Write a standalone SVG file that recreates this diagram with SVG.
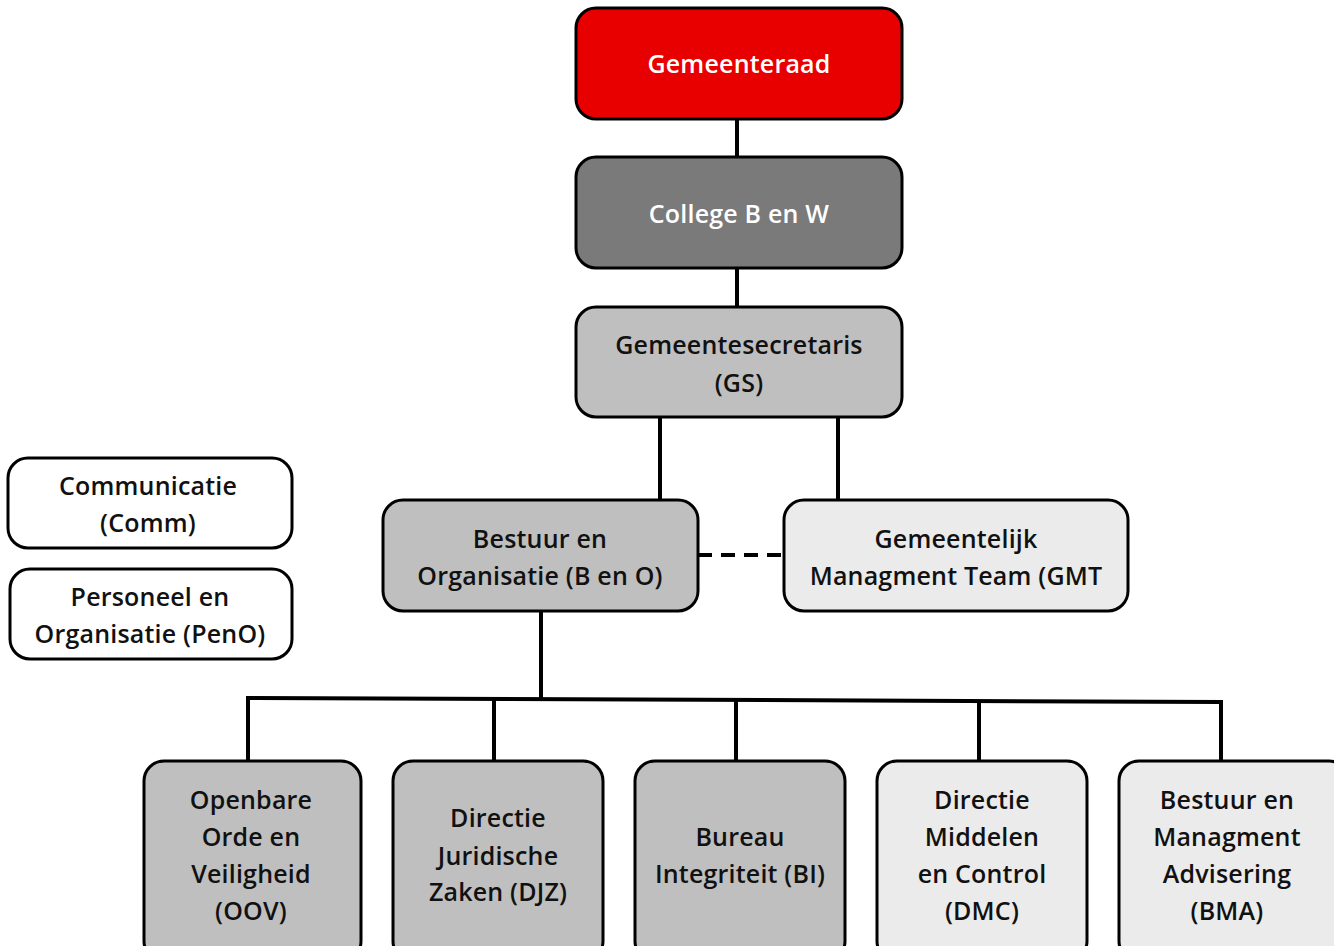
<svg xmlns="http://www.w3.org/2000/svg" width="1334" height="946" viewBox="0 0 1334 946">
<style>
.box{stroke:#000;stroke-width:3}
.t{font-family:"Open Sans",Lato,"Liberation Sans",sans-serif;font-weight:600;font-size:25px;letter-spacing:0.2px;text-anchor:middle;fill:#111}
.w{fill:#fff}
.c{stroke:#000;stroke-width:4;fill:none}
</style>
<rect width="1334" height="946" fill="#fff"/>
<g id="connectors">
<line class="c" x1="737" y1="119" x2="737" y2="157"/>
<line class="c" x1="737" y1="268" x2="737" y2="307"/>
<line class="c" x1="660" y1="417" x2="660" y2="500"/>
<line class="c" x1="838" y1="417" x2="838" y2="500"/>
<line class="c" x1="698" y1="555" x2="784" y2="555" stroke-dasharray="14,9"/>
<line class="c" x1="541" y1="611" x2="541" y2="698"/>
<polyline class="c" points="248,761 248,698 1221,702 1221,761"/>
<line class="c" x1="494" y1="699" x2="494" y2="761"/>
<line class="c" x1="736" y1="700" x2="736" y2="761"/>
<line class="c" x1="979" y1="701" x2="979" y2="761"/>
</g>
<g id="gemeenteraad"><rect class="box" x="576" y="8" width="326" height="111" rx="20" fill="#e80000"/><text class="t w" x="739" y="73">Gemeenteraad</text></g>
<g id="college"><rect class="box" x="576" y="157" width="326" height="111" rx="20" fill="#7a7a7a"/><text class="t w" x="739" y="223">College B en W</text></g>
<g id="gs"><rect class="box" x="576" y="307" width="326" height="110" rx="20" fill="#bfbfbf"/><text class="t" x="739" y="354">Gemeentesecretaris</text><text class="t" x="739" y="392">(GS)</text></g>
<g id="beno"><rect class="box" x="383" y="500" width="315" height="111" rx="20" fill="#bfbfbf"/><text class="t" x="540" y="548">Bestuur en</text><text class="t" x="540" y="585">Organisatie (B en O)</text></g>
<g id="gmt"><rect class="box" x="784" y="500" width="344" height="111" rx="20" fill="#ebebeb"/><text class="t" x="956" y="548">Gemeentelijk</text><text class="t" x="956" y="585">Managment Team (GMT</text></g>
<g id="comm"><rect class="box" x="8" y="458" width="284" height="90" rx="20" fill="#fff"/><text class="t" x="148" y="495">Communicatie</text><text class="t" x="148" y="532">(Comm)</text></g>
<g id="peno"><rect class="box" x="10" y="569" width="282" height="90" rx="20" fill="#fff"/><text class="t" x="150" y="606">Personeel en</text><text class="t" x="150" y="643">Organisatie (PenO)</text></g>
<g id="oov"><rect class="box" x="144" y="761" width="217" height="200" rx="20" fill="#bfbfbf"/><text class="t" x="251" y="809">Openbare</text><text class="t" x="251" y="846">Orde en</text><text class="t" x="251" y="883">Veiligheid</text><text class="t" x="251" y="920">(OOV)</text></g>
<g id="djz"><rect class="box" x="393" y="761" width="210" height="200" rx="20" fill="#bfbfbf"/><text class="t" x="498" y="827">Directie</text><text class="t" x="498" y="865">Juridische</text><text class="t" x="498" y="901">Zaken (DJZ)</text></g>
<g id="bi"><rect class="box" x="635" y="761" width="210" height="200" rx="20" fill="#bfbfbf"/><text class="t" x="740" y="846">Bureau</text><text class="t" x="740" y="883">Integriteit (BI)</text></g>
<g id="dmc"><rect class="box" x="877" y="761" width="210" height="200" rx="20" fill="#ebebeb"/><text class="t" x="982" y="809">Directie</text><text class="t" x="982" y="846">Middelen</text><text class="t" x="982" y="883">en Control</text><text class="t" x="982" y="920">(DMC)</text></g>
<g id="bma"><rect class="box" x="1119" y="761" width="230" height="200" rx="20" fill="#ebebeb"/><text class="t" x="1227" y="809">Bestuur en</text><text class="t" x="1227" y="846">Managment</text><text class="t" x="1227" y="883">Advisering</text><text class="t" x="1227" y="920">(BMA)</text></g>
</svg>
